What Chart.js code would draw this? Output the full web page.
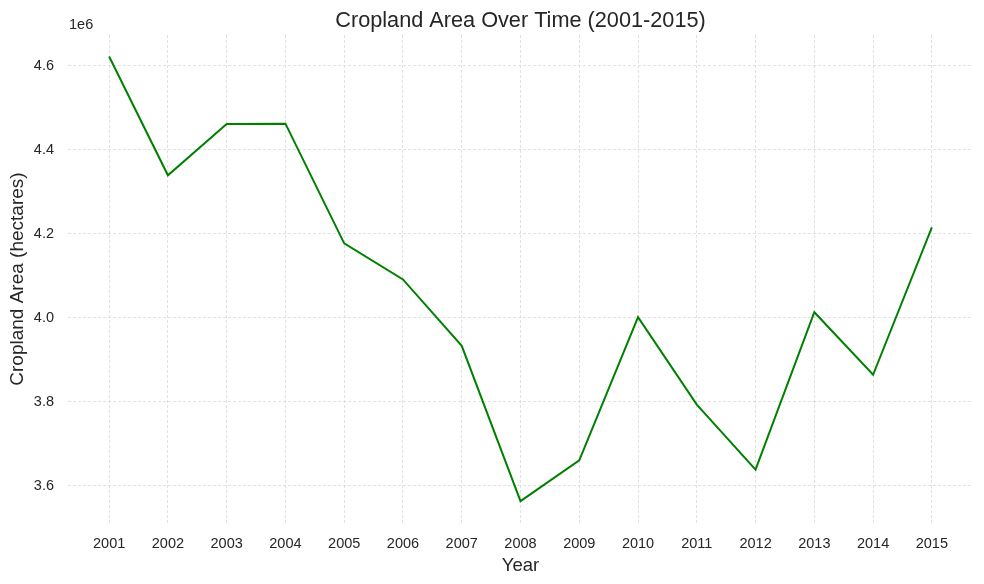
<!DOCTYPE html>
<html>
<head>
<meta charset="utf-8">
<script src="https://cdn.jsdelivr.net/npm/chart.js@4"></script>
<style>
  html, body { margin: 0; padding: 0; background: #ffffff; }
  #wrap { width: 984px; height: 584px; }
</style>
</head>
<body>
<div id="wrap"><canvas id="cropChart" width="984" height="584"></canvas></div>
<script>
// --- Data ---
const years = [2001, 2002, 2003, 2004, 2005, 2006, 2007, 2008, 2009, 2010, 2011, 2012, 2013, 2014, 2015];
const croplandArea = [4622000, 4339000, 4461000, 4462000, 4177000, 4091000, 3933000, 3563000, 3660000, 4001000, 3793000, 3638000, 4013000, 3864000, 4215000];
const yTickValues = [3600000, 3800000, 4000000, 4200000, 4400000, 4600000];

const textColor = '#262626';
const gridColor = '#d9d9d9';
const fontFamily = '"Liberation Sans", Arial, sans-serif';

// draws the matplotlib style "1e6" offset label above the y axis
const offsetLabel = {
    id: 'offsetLabel',
    afterDraw(chart) {
        const ctx = chart.ctx;
        const area = chart.chartArea;
        ctx.save();
        ctx.fillStyle = textColor;
        ctx.font = '14.5px ' + fontFamily;
        ctx.textAlign = 'left';
        ctx.textBaseline = 'bottom';
        ctx.fillText('1e6', area.left + 1, area.top - 3);
        ctx.restore();
    }
};

const ctx = document.getElementById('cropChart').getContext('2d');

new Chart(ctx, {
    type: 'line',
    data: {
        datasets: [{
            label: 'Cropland Area',
            data: years.map((y, i) => ({ x: y, y: croplandArea[i] })),
            borderColor: '#008000',
            backgroundColor: '#008000',
            borderWidth: 2,
            pointRadius: 0,
            tension: 0,
            fill: false
        }]
    },
    options: {
        responsive: false,
        animation: false,
        layout: { padding: { left: 0, right: 11, top: 0, bottom: 0 } },
        plugins: {
            legend: { display: false },
            tooltip: { enabled: false },
            title: {
                display: true,
                fullSize: false,
                text: 'Cropland Area Over Time (2001-2015)',
                color: textColor,
                font: { family: fontFamily, size: 21.7, weight: 'normal' },
                padding: { top: 8, bottom: 1 }
            }
        },
        scales: {
            x: {
                type: 'linear',
                min: 2000.3,
                max: 2015.7,
                afterBuildTicks: scale => { scale.ticks = years.map(v => ({ value: v })); },
                afterFit: scale => { scale.height = 61; },
                grid: { color: gridColor, lineWidth: 0.8, drawTicks: false },
                border: { display: false, dash: [3, 2] },
                ticks: {
                    color: textColor,
                    font: { family: fontFamily, size: 14.5 },
                    padding: 12,
                    maxRotation: 0,
                    autoSkip: false,
                    callback: v => String(v)
                },
                title: {
                    display: true,
                    text: 'Year',
                    color: textColor,
                    font: { family: fontFamily, size: 18.5 },
                    padding: { top: 10, bottom: 7 }
                }
            },
            y: {
                min: 3511000,
                max: 4673000,
                afterBuildTicks: scale => { scale.ticks = yTickValues.map(v => ({ value: v })); },
                afterFit: scale => { scale.width = 68; },
                grid: { color: gridColor, lineWidth: 0.8, drawTicks: false },
                border: { display: false, dash: [3, 2] },
                ticks: {
                    color: textColor,
                    font: { family: fontFamily, size: 14.5 },
                    padding: 14,
                    callback: v => (v / 1e6).toFixed(1)
                },
                title: {
                    display: true,
                    text: 'Cropland Area (hectares)',
                    color: textColor,
                    font: { family: fontFamily, size: 19 },
                    padding: { top: 6, bottom: 0 }
                }
            }
        }
    },
    plugins: [offsetLabel]
});
</script>
</body>
</html>
